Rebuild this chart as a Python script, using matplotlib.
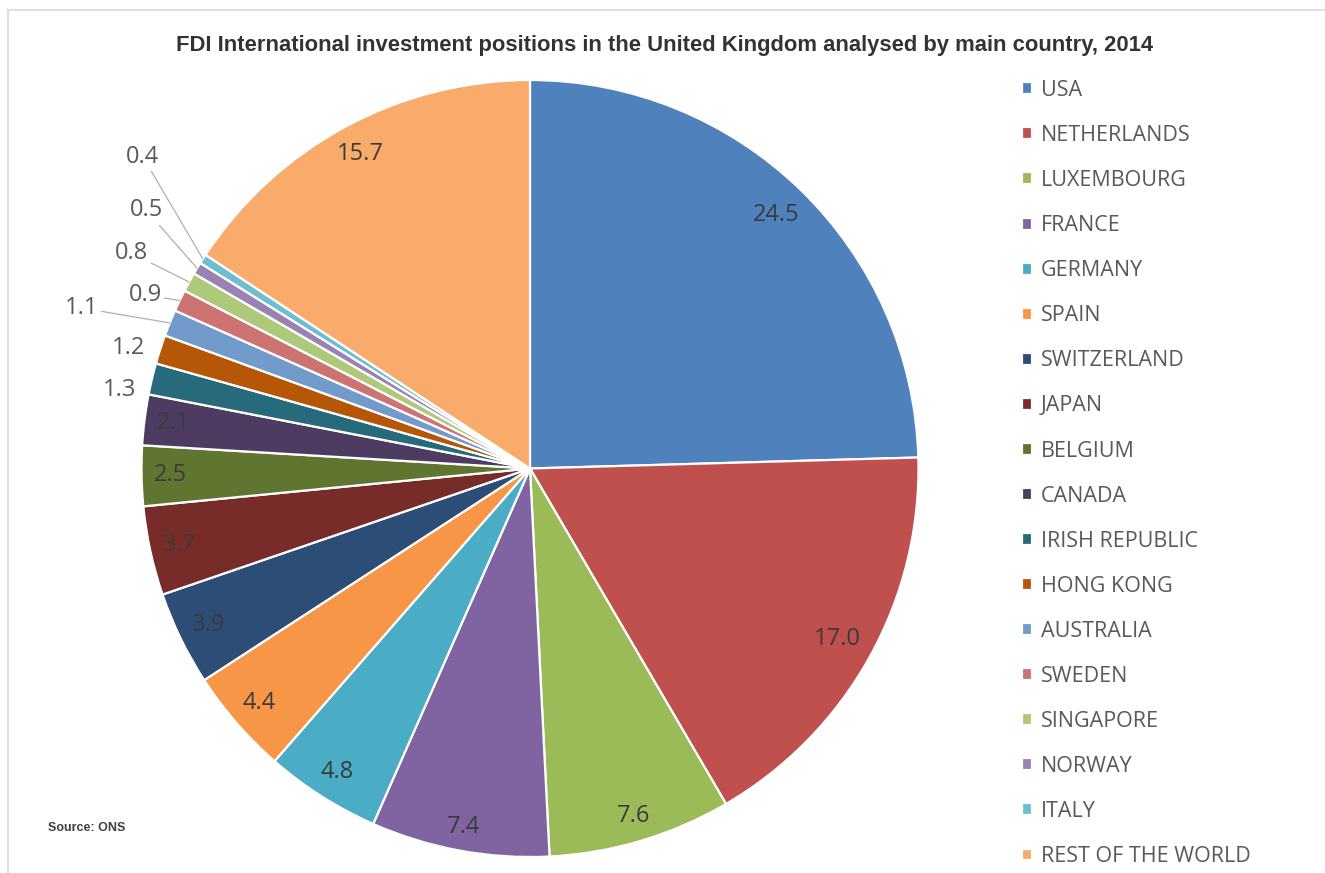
import numpy as np
import matplotlib
matplotlib.use("Agg")
import matplotlib.pyplot as plt
from matplotlib.lines import Line2D

# data (% of total)
countries = ["USA", "NETHERLANDS", "LUXEMBOURG", "FRANCE", "GERMANY", "SPAIN",
             "SWITZERLAND", "JAPAN", "BELGIUM", "CANADA", "IRISH REPUBLIC",
             "HONG KONG", "AUSTRALIA", "SWEDEN", "SINGAPORE", "NORWAY", "ITALY",
             "REST OF THE WORLD"]
values = [24.5, 17.0, 7.6, 7.4, 4.8, 4.4, 3.9, 3.7, 2.5, 2.1, 1.3, 1.2, 1.1,
          0.9, 0.8, 0.5, 0.4, 15.7]
colors = ["#4F81BD", "#C0504D", "#9BBB59", "#8064A2", "#4BACC6", "#F79646",
          "#2C4D75", "#772C2A", "#5F7530", "#4D3B62", "#276A7C", "#B65708",
          "#729ACA", "#CD7371", "#AFC97A", "#9983B5", "#6FBDD1", "#F9AB6B"]

# outside labels: index -> (radius, angle offset in degrees, leader line?)
outside = {10: (1.075, 2.5, False), 11: (1.078, 1.2, False),
           12: (1.225, 2.3, True), 13: (1.087, 1.3, True),
           14: (1.165, 0.3, True), 15: (1.19, -2.9, True),
           16: (1.28, -6.2, True)}

W, H = 1325, 873
fig = plt.figure(figsize=(W / 100, H / 100), dpi=100)

# light frame round the chart area
fig.add_artist(Line2D([8 / W, 8 / W], [0, 1 - 10 / H], color="#d9d9d9", lw=1.2))
fig.add_artist(Line2D([8 / W, 1], [1 - 10 / H, 1 - 10 / H], color="#d9d9d9", lw=1.2))

R = 388.5
cx, cy = 530, 468.5
ax = fig.add_axes([(cx - R) / W, (H - cy - R) / H, 2 * R / W, 2 * R / H])

wedges, _ = ax.pie(values, colors=colors, startangle=90, counterclock=False,
                   radius=1, wedgeprops=dict(edgecolor="white", linewidth=1.6))
ax.set_xlim(-1, 1)
ax.set_ylim(-1, 1)
ax.set_aspect("equal")
ax.axis("off")

num_font = dict(family="Open Sans", fontsize=17)
inside_texts = []
for i, (w, v) in enumerate(zip(wedges, values)):
    mid = np.deg2rad((w.theta1 + w.theta2) / 2)
    label = f"{v:.1f}"
    if i in outside:
        r, off, line = outside[i]
        a = mid + np.deg2rad(off)
        tx, ty = r * np.cos(a), r * np.sin(a)
        if line:
            ax.annotate(label, xy=(np.cos(mid), np.sin(mid)), xytext=(tx, ty),
                        ha="center", va="center", color="#595959",
                        arrowprops=dict(arrowstyle="-", color="#b0b0b0", lw=0.9,
                                        shrinkA=0, shrinkB=0),
                        annotation_clip=False, **num_font)
        else:
            ax.text(tx, ty, label, ha="center", va="center", color="#595959",
                    **num_font)
    else:
        t = ax.text(0, 0, label, ha="center", va="center", color="#3a3a3a",
                    **num_font)
        inside_texts.append((t, mid))

# place inside labels at the inner end of each slice
fig.canvas.draw()
renderer = fig.canvas.get_renderer()
pad = 0.03
for t, mid in inside_texts:
    bb = t.get_window_extent(renderer)
    hw, hh = bb.width / 2 / R, bb.height / 2 / R * 0.8
    r = 1 - pad - (abs(np.cos(mid)) * hw + abs(np.sin(mid)) * hh)
    t.set_position((r * np.cos(mid), r * np.sin(mid)))

fig.text(665 / W, 1 - 45 / H,
         "FDI International investment positions in the United Kingdom analysed by main country, 2014",
         ha="center", va="center", fontsize=15.8, fontweight="bold",
         family=["Liberation Sans", "DejaVu Sans"], color="#333333")

fig.legend(wedges, countries, loc="upper left",
           bbox_to_anchor=(1022 / W, 1 - 80 / H), frameon=False,
           prop=dict(family="Open Sans", size=15.5), labelcolor="#595959",
           handlelength=0.48, handleheight=0.48, handletextpad=0.4,
           labelspacing=1.118, borderpad=0, borderaxespad=0)

fig.text(48 / W, 1 - 828 / H, "Source: ONS", ha="left", va="center",
         fontsize=9, fontweight="bold",
         family=["Liberation Sans", "DejaVu Sans"], color="#404040")

fig.savefig("out.png", dpi=100)
